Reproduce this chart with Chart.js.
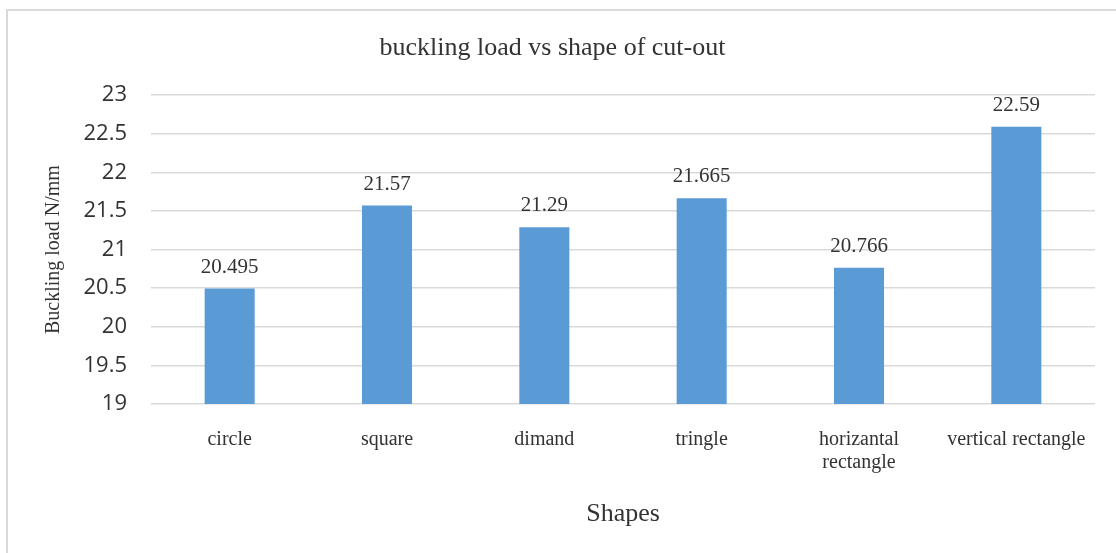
<!DOCTYPE html>
<html>
<head>
<meta charset="utf-8">
<script src="https://cdn.jsdelivr.net/npm/chart.js@4/dist/chart.umd.min.js"></script>
<style>
  body { margin: 0; background: #fff; }
  #wrap { position: relative; width: 1116px; height: 553px; }
  #frame { position: absolute; left: 6px; top: 9px; width: 1200px; height: 600px;
           border-left: 2px solid #d9d9d9; border-top: 2px solid #d9d9d9; }
  canvas { position: absolute; left: 0; top: 0; }
</style>
</head>
<body>
<div id="wrap">
  <div id="frame"></div>
  <canvas id="chartCanvas" width="1116" height="553"></canvas>
</div>
<script>
const shapes = ["circle", "square", "dimand", "tringle", ["horizantal", "rectangle"], "vertical rectangle"];
const bucklingLoads = [20.495, 21.57, 21.29, 21.665, 20.766, 22.59];
const loadLabels = ["20.495", "21.57", "21.29", "21.665", "20.766", "22.59"];

const serif = "'Liberation Serif', 'Times New Roman', serif";
const textColor = "#333333";

// draw the value above each bar
const valueLabels = {
  id: "valueLabels",
  afterDatasetsDraw(chart) {
    const ctx = chart.ctx;
    ctx.save();
    ctx.font = `21px ${serif}`;
    ctx.fillStyle = textColor;
    ctx.textAlign = "center";
    ctx.textBaseline = "alphabetic";
    chart.getDatasetMeta(0).data.forEach((bar, i) => {
      ctx.fillText(loadLabels[i], bar.x, bar.y - 16);
    });
    ctx.restore();
  }
};

new Chart(document.getElementById("chartCanvas"), {
  type: "bar",
  data: {
    labels: shapes,
    datasets: [{
      label: "Buckling load",
      data: bucklingLoads,
      backgroundColor: "#5B9BD5",
      categoryPercentage: 1,
      barPercentage: 0.318,
    }]
  },
  options: {
    responsive: false,
    animation: false,
    layout: { padding: { left: 10, right: 21, top: 10, bottom: 0 } },
    plugins: {
      legend: { display: false },
      tooltip: { enabled: false },
      title: {
        display: true,
        text: "buckling load vs shape of cut-out",
        color: textColor,
        font: { family: serif, size: 26, weight: "normal" },
        padding: { top: 23, bottom: 31 }
      }
    },
    scales: {
      x: {
        grid: { display: false },
        border: { display: false },
        ticks: {
          color: textColor,
          padding: 16,
          maxRotation: 0,
          autoSkip: false,
          font: { family: serif, size: 20, lineHeight: 1.15 }
        },
        title: {
          display: true,
          text: "Shapes",
          color: textColor,
          font: { family: serif, size: 26 },
          padding: { top: 0, bottom: 23 }
        },
        afterFit(scale) { scale.height = 149; }
      },
      y: {
        min: 19,
        max: 23,
        ticks: {
          stepSize: 0.5,
          color: textColor,
          padding: 24,
          font: { family: "'Open Sans', sans-serif", size: 22 },
          callback: value => String(value)
        },
        grid: { color: "#d9d9d9", lineWidth: 1.5, drawTicks: false },
        border: { display: false },
        title: {
          display: true,
          text: "Buckling load N/mm",
          color: textColor,
          font: { family: serif, size: 20 },
          padding: { top: 32, bottom: 0 }
        },
        afterFit(scale) { scale.width = 141; }
      }
    }
  },
  plugins: [valueLabels]
});
</script>
</body>
</html>
